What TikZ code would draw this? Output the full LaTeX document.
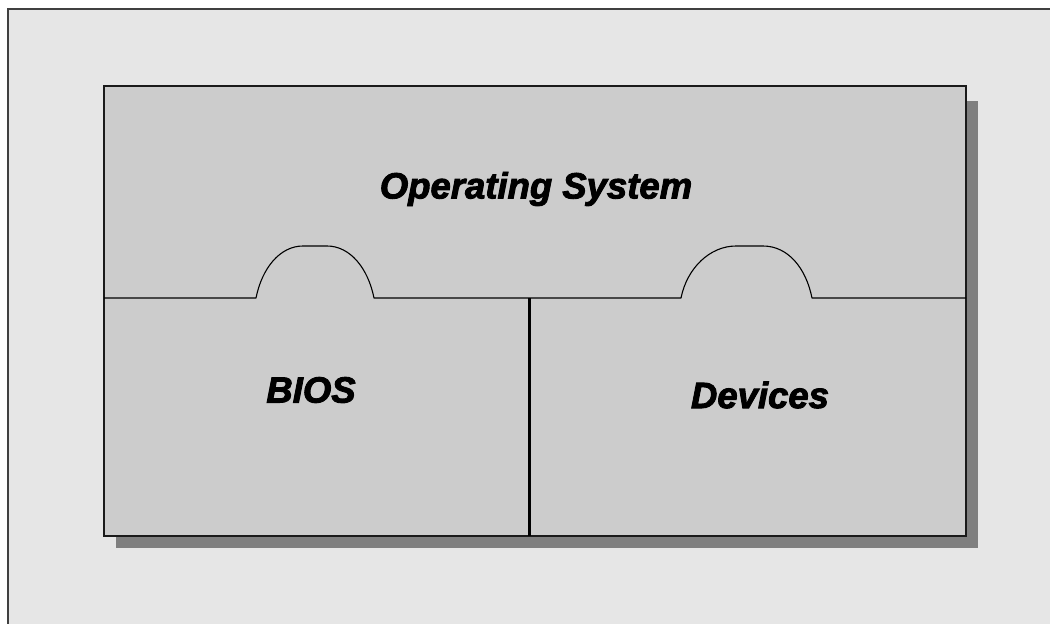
\documentclass[tikz,border=0pt]{standalone}
\usepackage{fontspec}
\setmainfont{Liberation Sans}
\newfontfamily\heavyfont[BoldItalicFeatures={FakeBold=2.5}]{Liberation Sans}
\definecolor{pagebg}{HTML}{E6E6E6}
\definecolor{panel}{HTML}{CCCCCC}
\definecolor{shadowgray}{HTML}{7F7F7F}
\definecolor{frameline}{HTML}{404040}
\definecolor{edge}{HTML}{1A1A1A}
\begin{document}
\begin{tikzpicture}[x=1pt,y=-1pt,
  layer/.style={font=\heavyfont\fontsize{36.5}{36.5}\selectfont\bfseries\itshape, text=black, inner sep=0pt, anchor=center},
  outline/.style={draw=edge, line width=2pt},
  seam/.style={draw=black, line width=1.1pt, line join=round}]
  % canvas and page frame
  \useasboundingbox (0,0) rectangle (1050,624);
  \fill[white] (0,0) rectangle (1050,624);
  \fill[pagebg] (8,9) rectangle (1050,624);
  \draw[frameline, line width=2pt] (8,624) -- (8,9) -- (1050,9);

  % drop shadow
  \fill[shadowgray] (116,101) rectangle (978,548);

  % main panel
  \fill[panel] (104,86) rectangle (966,536);
  \draw[outline] (104,86) rectangle (966,536);

  % boundary between the operating system and the layers below, with two tabs
  \draw[seam] (104,298) -- (256,298)
     .. controls (262,268) and (280,246) .. (303,246) -- (327,246)
     .. controls (350,246) and (368,268) .. (374,298)
     -- (681,298)
     .. controls (687,268) and (710,246) .. (736,246) -- (763,246)
     .. controls (788,246) and (806,268) .. (812,298)
     -- (966,298);
  \coordinate (divtop) at (529,298);
  \coordinate (divbot) at (529,536);
  \draw[black, line width=3pt] (divtop) -- (divbot);

  % labels
  \node[layer] (os) at (536,189) {Operating System};
  \node[layer] (bios) at (311,390) {BIOS};
  \node[layer] (dev) at (760,395) {Devices};
\end{tikzpicture}
\end{document}
